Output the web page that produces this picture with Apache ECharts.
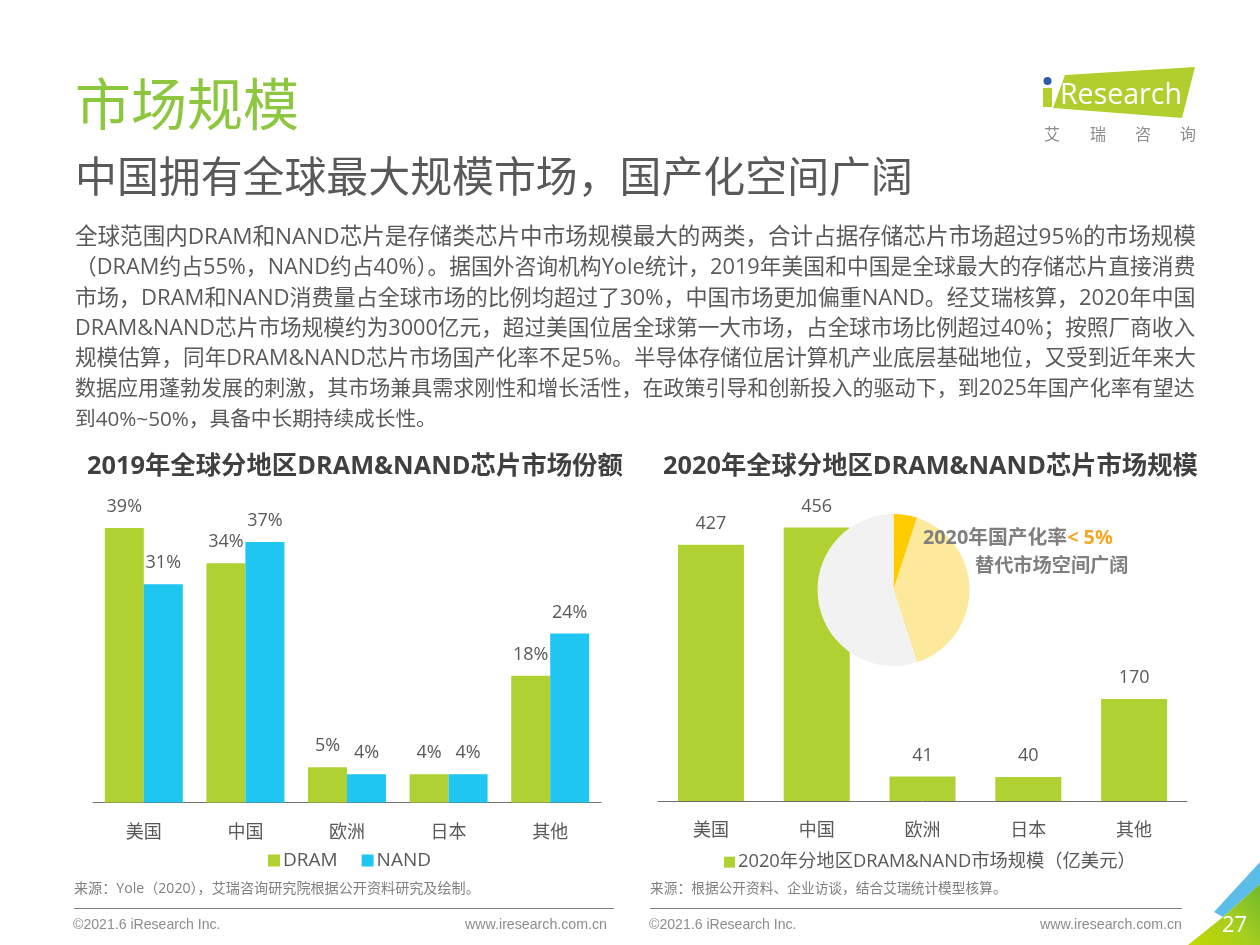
<!DOCTYPE html>
<html><head><meta charset="utf-8">
<style>html,body{margin:0;padding:0;background:#fff}#c{width:1260px;height:945px}</style>
<script src="https://cdn.jsdelivr.net/npm/echarts@6/dist/echarts.min.js"></script>
</head><body><div id="c"></div>
<script>
const categories = ['美国','中国','欧洲','日本','其他'];
const dramShare = [39,34,5,4,18];
const nandShare = [31,37,4,4,24];
const marketSize = [427,456,41,40,170];
const pieNames = ['国产化率','替代空间','其他'];
const pieValues = [5,40,55];
const mainTitle = '市场规模';
const subTitle = '中国拥有全球最大规模市场，国产化空间广阔';
const bodyLines = [
 '全球范围内DRAM和NAND芯片是存储类芯片中市场规模最大的两类，合计占据存储芯片市场超过95%的市场规模',
 '（DRAM约占55%，NAND约占40%）。据国外咨询机构Yole统计，2019年美国和中国是全球最大的存储芯片直接消费',
 '市场，DRAM和NAND消费量占全球市场的比例均超过了30%，中国市场更加偏重NAND。经艾瑞核算，2020年中国',
 'DRAM&NAND芯片市场规模约为3000亿元，超过美国位居全球第一大市场，占全球市场比例超过40%；按照厂商收入',
 '规模估算，同年DRAM&NAND芯片市场国产化率不足5%。半导体存储位居计算机产业底层基础地位，又受到近年来大',
 '数据应用蓬勃发展的刺激，其市场兼具需求刚性和增长活性，在政策引导和创新投入的驱动下，到2025年国产化率有望达',
 '到40%~50%，具备中长期持续成长性。'];
const leftTitle = '2019年全球分地区DRAM&NAND芯片市场份额';
const rightTitle = '2020年全球分地区DRAM&NAND芯片市场规模';
const rightSeriesName = '2020年分地区DRAM&NAND市场规模（亿美元）';
const leftSource = '来源：Yole（2020），艾瑞咨询研究院根据公开资料研究及绘制。';
const rightSource = '来源：根据公开资料、企业访谈，结合艾瑞统计模型核算。';

const FF = '"Open Sans","Noto Sans CJK SC",sans-serif';
const AF = '"Liberation Sans",Arial,sans-serif';
const GREEN = '#B0D132', BLUE = '#1FC6F2', TXT = '#595959';
const ctx = document.createElement('canvas').getContext('2d');
function fit(t, w, weight){ ctx.font = (weight||'normal')+' 100px '+FF; return 100*w/ctx.measureText(t).width; }
function txt(x,y,t,size,fill,extra){
  return {type:'text',x:x,y:y,z:50,silent:true,style:Object.assign({text:t,fontFamily:FF,fontSize:size,fill:fill,verticalAlign:'middle'},extra||{})};
}
const bodyY=[238,268,299,329,359,389,420];
const graphics=[
 txt(75,109,mainTitle,fit(mainTitle,224),'#8DC63F'),
 txt(75,180,subTitle,fit(subTitle,838),'#595959'),
 txt(87,467,leftTitle,fit(leftTitle,536,'bold'),'#404040',{fontWeight:'bold'}),
 txt(663,467,rightTitle,fit(rightTitle,535,'bold'),'#404040',{fontWeight:'bold'}),
 txt(74,889,leftSource,fit(leftSource,406),'#7F7F7F'),
 txt(650,889,rightSource,fit(rightSource,357),'#7F7F7F'),
 {type:'line',z:40,silent:true,shape:{x1:74,y1:908.5,x2:614,y2:908.5},style:{stroke:'#808080',lineWidth:1}},
 {type:'line',z:40,silent:true,shape:{x1:650,y1:908.5,x2:1182,y2:908.5},style:{stroke:'#808080',lineWidth:1}},
 txt(73,925,'©2021.6 iResearch Inc.',14.1,'#8C8C8C',{fontFamily:AF}),
 txt(607,925,'www.iresearch.com.cn',14.2,'#8C8C8C',{fontFamily:AF,align:'right'}),
 txt(649,925,'©2021.6 iResearch Inc.',14.1,'#8C8C8C',{fontFamily:AF}),
 txt(1182,925,'www.iresearch.com.cn',14.2,'#8C8C8C',{fontFamily:AF,align:'right'}),
 {type:'text',x:923,y:538,z:60,silent:true,style:{
   text:'{a|2020年国产化率}{b|< 5%}',verticalAlign:'middle',
   rich:{a:{fontFamily:FF,fontSize:19.8,fontWeight:'bold',fill:'#7F7F7F',color:'#7F7F7F'},b:{fontFamily:FF,fontSize:19.8,fontWeight:'bold',fill:'#F5A623',color:'#F5A623'}}}},
 txt(975,567,'替代市场空间广阔',19.2,'#7F7F7F',{fontWeight:'bold'}),
 {type:'polygon',z:30,silent:true,shape:{points:[[1065,75],[1195,67],[1182,118],[1053,108]]},style:{fill:'#B0CF2E'}},
 {type:'polygon',z:30,silent:true,shape:{points:[[1043,88],[1052,88],[1052,107],[1043,107]]},style:{fill:'#B0CF2E'}},
 {type:'circle',z:30,silent:true,shape:{cx:1047.5,cy:81,r:4},style:{fill:'#2C5DA8'}},
 txt(1060,96,'Research',fit('Research',122),'#FFFFFF'),
 txt(1044,135,'艾',16,'#8C8C8C'),txt(1090,135,'瑞',16,'#8C8C8C'),txt(1135,135,'咨',16,'#8C8C8C'),txt(1180,135,'询',16,'#8C8C8C'),
 {type:'polygon',z:30,silent:true,shape:{points:[[1260,862],[1260,884],[1223,917],[1214,912]]},style:{fill:'#5BBDE8'}},
 {type:'polygon',z:31,silent:true,shape:{points:[[1223,917],[1260,884],[1260,945],[1188,945]]},style:{fill:{type:'linear',x:0,y:1,x2:1,y2:0,colorStops:[{offset:0,color:'#C5D600'},{offset:0.5,color:'#A8CF1E'},{offset:1,color:'#6FB82E'}]}}},
 txt(1222,926,'27',22,'#FFFFFF',{}) 
];
graphics[graphics.length-1].z=60;
bodyLines.forEach((l,i)=>{
  graphics.push(txt(75,bodyY[i],l, i<6?fit(l,1121):fit(l,362),'#595959'));
});

const chart = echarts.init(document.getElementById('c'),null,{renderer:'canvas'});
const barLabel={show:true,position:'top',distance:12,color:TXT,fontFamily:FF,fontSize:18};
chart.setOption({
 animation:false,
 backgroundColor:'#FFFFFF',
 grid:[
  {left:93,width:508,top:521,height:281.5},
  {left:658,width:529,top:501,height:300}
 ],
 xAxis:[0,1].map(i=>({gridIndex:i,type:'category',data:categories,axisTick:{show:false},
   axisLine:{lineStyle:{color:'#6E6E6E',width:1}},
   axisLabel:{color:TXT,fontFamily:FF,fontSize:18,margin:21}})),
 yAxis:[
  {gridIndex:0,type:'value',min:0,max:40,show:false,splitLine:{show:false}},
  {gridIndex:1,type:'value',min:0,max:500,show:false,splitLine:{show:false}}
 ],
 legend:[
  {data:['DRAM','NAND'],left:268,top:851,itemWidth:12,itemHeight:12,itemGap:24,icon:'rect',padding:0,
   textStyle:{color:TXT,fontFamily:FF,fontSize:19,padding:[0,0,0,-2]},selectedMode:false},
  {data:[rightSeriesName],left:724,top:853,itemWidth:11,itemHeight:11,icon:'rect',padding:0,
   textStyle:{color:TXT,fontFamily:FF,fontSize:18.3,padding:[0,0,0,-2]},selectedMode:false}
 ],
 series:[
  {name:'DRAM',type:'bar',xAxisIndex:0,yAxisIndex:0,data:dramShare,barWidth:39,barGap:0,itemStyle:{color:GREEN},label:Object.assign({},barLabel,{formatter:'{c}%'})},
  {name:'NAND',type:'bar',xAxisIndex:0,yAxisIndex:0,data:nandShare,barWidth:39,barGap:0,itemStyle:{color:BLUE},label:Object.assign({},barLabel,{formatter:'{c}%'})},
  {name:rightSeriesName,type:'bar',xAxisIndex:1,yAxisIndex:1,data:marketSize,barWidth:66,itemStyle:{color:GREEN},label:barLabel},
  {name:'国产化率',type:'pie',center:[893.5,590],radius:[0,76],startAngle:90,clockwise:true,z:10,
   label:{show:false},labelLine:{show:false},emphasis:{disabled:true},silent:true,
   data:pieValues.map((v,i)=>({name:pieNames[i],value:v,itemStyle:{color:['#FFCC00','#FDE99B','#F2F2F2'][i]}}))}
 ],
 graphic:{elements:graphics}
});
</script></body></html>
